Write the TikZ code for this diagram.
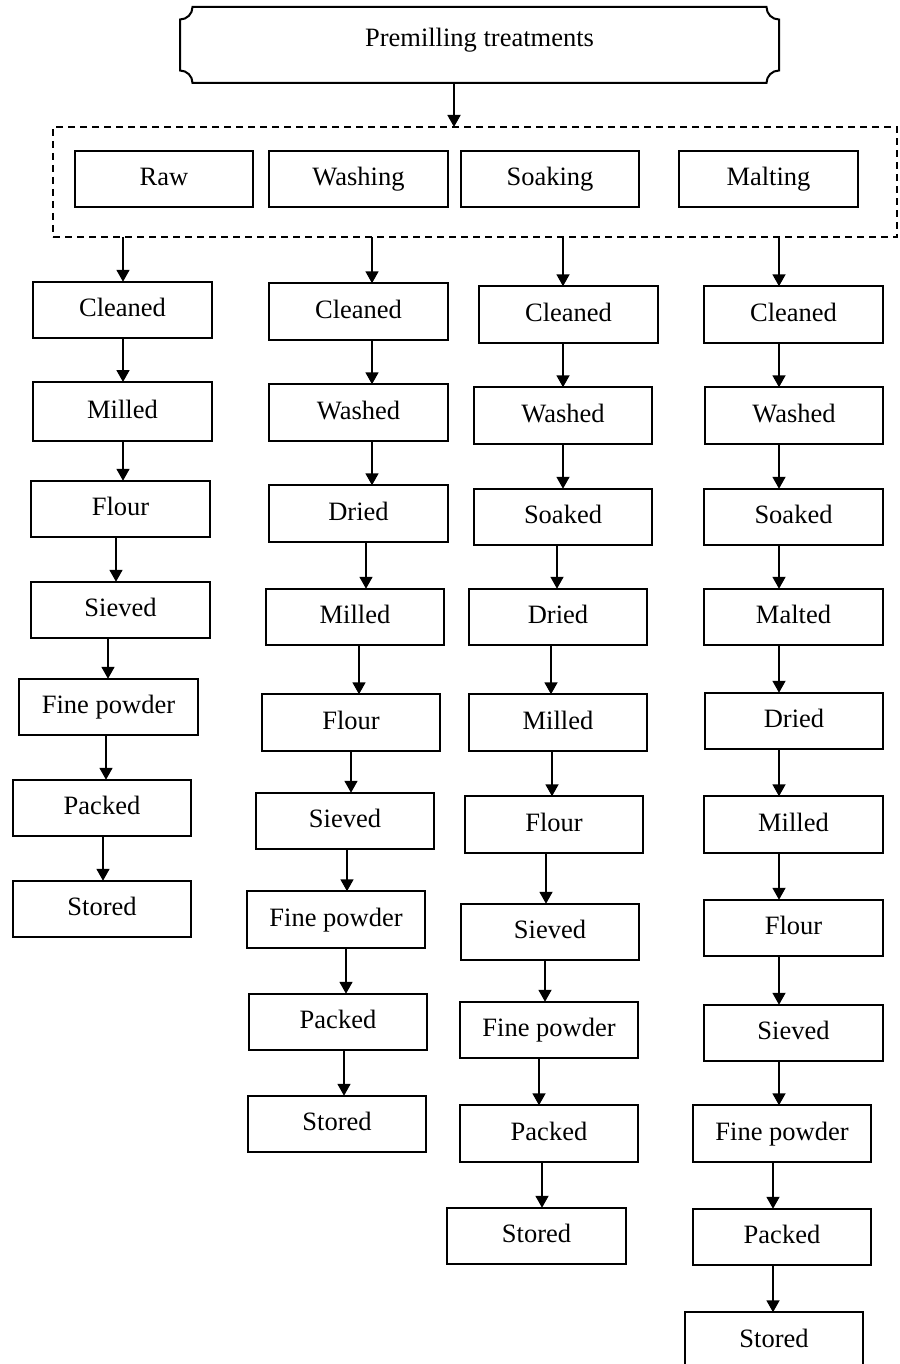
\documentclass[tikz,border=0pt]{standalone}
\usepackage{fontspec}
\setmainfont{Liberation Serif}
\usetikzlibrary{arrows.meta}
\newcommand\linkdown[3]{\draw[flowline] (perpendicular cs: horizontal line through={(#1.south)}, vertical line through={(#3,0)}) -- (perpendicular cs: horizontal line through={(#2.north)}, vertical line through={(#3,0)});}
\begin{document}
\begin{tikzpicture}[x=0.5pt,y=-0.5pt,
  txt/.style={font=\fontsize{13.25pt}{15pt}\selectfont},
  procbox/.style={txt,draw,line width=0.9pt,inner sep=0pt,outer sep=0pt,
    minimum width=89.25pt,minimum height=28.25pt,text height=9.3pt,text depth=2.65pt},
  flowline/.style={line width=0.9pt,-{Triangle[width=6.5pt,length=6pt]}},
  grpbox/.style={draw,line width=0.9pt,dash pattern=on 3.5pt off 2.5pt,inner sep=0pt,outer sep=0pt,
    minimum width=422pt,minimum height=55pt}]
\path[use as bounding box] (0,0) rectangle (899,1364);
\clip (0,0) rectangle (899,1364);
\fill[white] (0,0) rectangle (899,1364);

% top scroll box
\node[txt,inner sep=0pt,outer sep=0pt,minimum width=299.5pt,minimum height=38pt,
  text height=9.3pt,text depth=7.3pt] (top) at (479.5,45) {Premilling treatments};
\def\rr{6.25pt}
\draw[line width=1pt] ([yshift=-\rr]top.north west) arc[start angle=-90,end angle=0,radius=\rr]
  -- ([xshift=-\rr]top.north east) arc[start angle=180,end angle=270,radius=\rr]
  -- ([yshift=\rr]top.south east) arc[start angle=90,end angle=180,radius=\rr]
  -- ([xshift=\rr]top.south west) arc[start angle=0,end angle=90,radius=\rr]
  -- cycle;

% dashed group
\node[grpbox] (grp) at (475,182) {};
\node[procbox] (raw) at (164,179) {Raw};
\node[procbox] (wash) at (358.5,179) {Washing};
\node[procbox] (soak) at (550,179) {Soaking};
\node[procbox] (malt) at (768.5,179) {Malting};
\linkdown{top}{grp}{454}

% column 1
\node[procbox] (c1a) at (122.5,310) {Cleaned};
\node[procbox,minimum height=29.5pt] (c1b) at (122.5,411.5) {Milled};
\node[procbox] (c1c) at (120.5,509) {Flour};
\node[procbox] (c1d) at (120.5,610) {Sieved};
\node[procbox] (c1e) at (108.5,707) {Fine powder};
\node[procbox] (c1f) at (102,808) {Packed};
\node[procbox] (c1g) at (102,909) {Stored};
\linkdown{grp}{c1a}{123}
\linkdown{c1a}{c1b}{123}
\linkdown{c1b}{c1c}{123}
\linkdown{c1c}{c1d}{116}
\linkdown{c1d}{c1e}{108}
\linkdown{c1e}{c1f}{106}
\linkdown{c1f}{c1g}{103}

% column 2
\node[procbox] (c2a) at (358.5,311.5) {Cleaned};
\node[procbox] (c2b) at (358.5,412.5) {Washed};
\node[procbox] (c2c) at (358.5,513.5) {Dried};
\node[procbox] (c2d) at (355,617) {Milled};
\node[procbox] (c2e) at (351,722.5) {Flour};
\node[procbox] (c2f) at (345,821) {Sieved};
\node[procbox] (c2g) at (336,919.5) {Fine powder};
\node[procbox] (c2h) at (338,1022) {Packed};
\node[procbox] (c2i) at (337,1124) {Stored};
\linkdown{grp}{c2a}{372}
\linkdown{c2a}{c2b}{372}
\linkdown{c2b}{c2c}{372}
\linkdown{c2c}{c2d}{366}
\linkdown{c2d}{c2e}{359}
\linkdown{c2e}{c2f}{351}
\linkdown{c2f}{c2g}{347}
\linkdown{c2g}{c2h}{346}
\linkdown{c2h}{c2i}{344}

% column 3
\node[procbox] (c3a) at (568.5,314.5) {Cleaned};
\node[procbox] (c3b) at (563,415.5) {Washed};
\node[procbox] (c3c) at (563,517) {Soaked};
\node[procbox] (c3d) at (558,617) {Dried};
\node[procbox] (c3e) at (558,722.5) {Milled};
\node[procbox] (c3f) at (554,824.5) {Flour};
\node[procbox] (c3g) at (550,932) {Sieved};
\node[procbox] (c3h) at (549,1030) {Fine powder};
\node[procbox] (c3i) at (549,1133.5) {Packed};
\node[procbox] (c3j) at (536.5,1236) {Stored};
\linkdown{grp}{c3a}{563}
\linkdown{c3a}{c3b}{563}
\linkdown{c3b}{c3c}{563}
\linkdown{c3c}{c3d}{557}
\linkdown{c3d}{c3e}{551}
\linkdown{c3e}{c3f}{552}
\linkdown{c3f}{c3g}{546}
\linkdown{c3g}{c3h}{545}
\linkdown{c3h}{c3i}{539}
\linkdown{c3i}{c3j}{542}

% column 4
\node[procbox] (c4a) at (793.5,314.5) {Cleaned};
\node[procbox] (c4b) at (794,415.5) {Washed};
\node[procbox] (c4c) at (793.5,517) {Soaked};
\node[procbox] (c4d) at (793.5,617) {Malted};
\node[procbox] (c4e) at (794,721) {Dried};
\node[procbox] (c4f) at (793.5,824.5) {Milled};
\node[procbox] (c4g) at (793.5,928) {Flour};
\node[procbox] (c4h) at (793.5,1033) {Sieved};
\node[procbox] (c4i) at (782,1133.5) {Fine powder};
\node[procbox] (c4j) at (782,1237) {Packed};
\node[procbox] (c4k) at (774,1340.5) {Stored};
\linkdown{grp}{c4a}{779}
\linkdown{c4a}{c4b}{779}
\linkdown{c4b}{c4c}{779}
\linkdown{c4c}{c4d}{779}
\linkdown{c4d}{c4e}{779}
\linkdown{c4e}{c4f}{779}
\linkdown{c4f}{c4g}{779}
\linkdown{c4g}{c4h}{779}
\linkdown{c4h}{c4i}{779}
\linkdown{c4i}{c4j}{773}
\linkdown{c4j}{c4k}{773}
\end{tikzpicture}
\end{document}
